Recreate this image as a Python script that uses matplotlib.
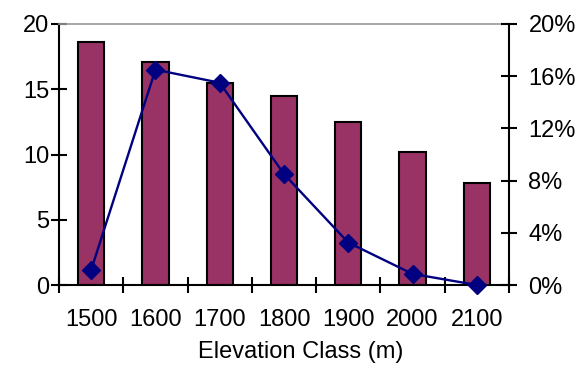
import matplotlib
matplotlib.use("Agg")
import matplotlib.pyplot as plt
import numpy as np
from matplotlib.ticker import FixedLocator

plt.rcParams['font.family'] = ['Liberation Sans', 'DejaVu Sans']

elevation_classes = ["1500", "1600", "1700", "1800", "1900", "2000", "2100"]
bar_values = [18.6, 17.1, 15.5, 14.5, 12.5, 10.2, 7.85]
line_percent = [1.15, 16.5, 15.5, 8.5, 3.25, 0.85, 0.0]
left_ticks = [0, 5, 10, 15, 20]
right_ticks = [0, 4, 8, 12, 16, 20]

W, H = 580, 367
fig = plt.figure(figsize=(W / 100, H / 100), dpi=100)
ax = fig.add_axes([59 / W, 1 - 285 / H, (509 - 59) / W, (285 - 24) / H])

x = np.arange(len(elevation_classes))
ax.bar(x, bar_values, width=0.41, color="#993366", edgecolor="black", linewidth=1.5, zorder=2)
ax.set_xlim(-0.5, len(x) - 0.5)
ax.set_ylim(0, 20)

# Category boundaries carry the tick marks; labels sit at category centres
ax.xaxis.set_major_locator(FixedLocator(np.arange(len(x) + 1) - 0.5))
ax.set_xticklabels([])
ax.xaxis.set_minor_locator(FixedLocator(x))
ax.set_xticklabels(elevation_classes, minor=True)
ax.tick_params(axis='x', which='major', direction='inout', length=12, width=1.5)
ax.tick_params(axis='x', which='minor', length=0, pad=17, labelsize=17)

ax.set_yticks(left_ticks)
ax.tick_params(axis='y', direction='inout', length=12, width=1.5, labelsize=17, pad=1)

for side in ("left", "bottom"):
    ax.spines[side].set_linewidth(1.5)
ax.spines["top"].set_color("#999999")
ax.spines["top"].set_linewidth(1.2)
ax.spines["right"].set_visible(False)

ax2 = ax.twinx()
ax2.plot(x, line_percent, color="#000080", linewidth=1.7, marker="D", markersize=9,
         markerfacecolor="#000080", markeredgecolor="#000080", zorder=3, clip_on=False)
ax2.set_ylim(0, 20)
ax2.set_yticks(right_ticks)
ax2.set_yticklabels([f"{t}%" for t in right_ticks])
ax2.tick_params(axis='y', direction='inout', length=12, width=1.5, labelsize=17, pad=8)
ax2.spines["right"].set_linewidth(1.5)
for side in ("left", "top", "bottom"):
    ax2.spines[side].set_visible(False)

fig.text(301 / W, 1 - 352 / H, "Elevation Class (m)", ha="center", va="center", fontsize=17)

fig.savefig("out.png", dpi=100)
